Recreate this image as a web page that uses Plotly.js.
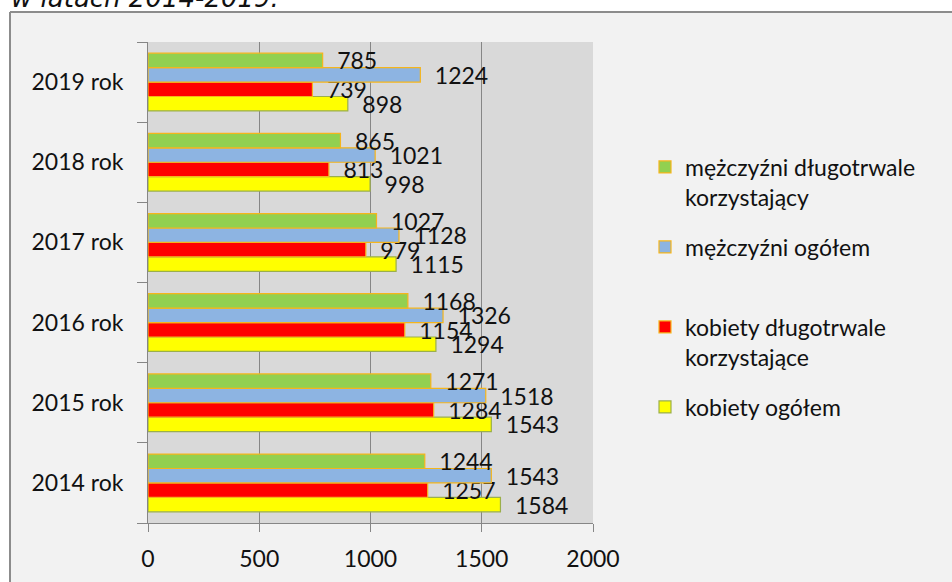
<!DOCTYPE html>
<html>
<head>
<meta charset="utf-8">
<script src="https://cdn.plot.ly/plotly-3.0.1.min.js"></script>
<style>html,body{margin:0;padding:0;background:#fff;}#chart{width:952px;height:582px;}</style>
</head>
<body>
<div id="chart"></div>
<script>
const years = ['2014 rok', '2015 rok', '2016 rok', '2017 rok', '2018 rok', '2019 rok'];
const kobietyOgolem = [1584, 1543, 1294, 1115, 998, 898];
const kobietyDlugo = [1257, 1284, 1154, 979, 813, 739];
const mezczyzniOgolem = [1543, 1518, 1326, 1128, 1021, 1224];
const mezczyzniDlugo = [1244, 1271, 1168, 1027, 865, 785];
const xTicks = [0, 500, 1000, 1500, 2000];

const FONT = 'Lato, "Open Sans", sans-serif';
const TXT = '#111111';
const ORANGE = '#F5B51C';

function barTrace(name, values, color, lineColor, legendId) {
  return {
    type: 'bar', orientation: 'h', name: name, x: values, y: years,
    marker: {color: color, line: {color: lineColor, width: 1.2}},
    texttemplate: '\u2002%{x}', textposition: 'outside', constraintext: 'none',
    cliponaxis: false, textfont: {family: FONT, size: 23, color: TXT},
    legend: legendId, hoverinfo: 'skip'
  };
}

const data = [
  barTrace('kobiety ogółem', kobietyOgolem, '#FFFF00', '#9BAF4B', 'legend4'),
  barTrace('kobiety długotrwale<br>korzystające', kobietyDlugo, '#FF0000', ORANGE, 'legend3'),
  barTrace('mężczyźni ogółem', mezczyzniOgolem, '#8DB4E2', ORANGE, 'legend2'),
  barTrace('mężczyźni długotrwale<br>korzystający', mezczyzniDlugo, '#92D050', ORANGE, 'legend')
];

// plot area in pixels: x 148..593, y 42..523
const L = 148, R = 593, T = 42, B = 523;
const px = v => (v - L) / (R - L);
const py = v => (B - v) / (B - T);

function legendAt(yPix) {
  return {x: px(645), xanchor: 'left', y: py(yPix), yanchor: 'middle', bgcolor: 'rgba(0,0,0,0)',
          borderwidth: 0, valign: 'top', font: {family: FONT, size: 23, color: TXT}};
}

const layout = {
  width: 952, height: 582,
  margin: {l: L, r: 952 - R, t: T, b: 582 - B},
  paper_bgcolor: '#F2F2F2', plot_bgcolor: '#D9D9D9',
  barmode: 'group', bargap: 0.28, bargroupgap: 0,
  showlegend: true,
  legend: legendAt(182), legend2: legendAt(247), legend3: legendAt(342), legend4: legendAt(407),
  xaxis: {
    range: [0, 2000], tickvals: xTicks, ticktext: xTicks.map(String),
    showgrid: true, gridcolor: '#868686', gridwidth: 1,
    showline: true, linecolor: '#868686', linewidth: 1,
    ticks: 'outside', ticklen: 8, tickcolor: '#868686', tickwidth: 1,
    zeroline: false, ticklabelstandoff: 7,
    tickfont: {family: FONT, size: 23, color: TXT}, fixedrange: true
  },
  yaxis: {
    type: 'category', categoryorder: 'array', categoryarray: years,
    showgrid: false, showline: true, linecolor: '#868686', linewidth: 1,
    ticks: 'outside', ticklen: 10, tickcolor: '#868686', tickwidth: 1,
    tickson: 'boundaries', ticklabelstandoff: 19,
    tickfont: {family: FONT, size: 23, color: TXT}, fixedrange: true
  },
  shapes: [
    {type: 'rect', xref: 'paper', yref: 'paper', layer: 'above', x0: px(-5), x1: px(10), y0: py(600), y1: py(-5),
     fillcolor: '#FFFFFF', line: {width: 0}},
    {type: 'rect', xref: 'paper', yref: 'paper', layer: 'above', x0: px(-5), x1: px(960), y0: py(12), y1: py(-5),
     fillcolor: '#FFFFFF', line: {width: 0}},
    {type: 'line', xref: 'paper', yref: 'paper', layer: 'above', x0: px(10), x1: px(10), y0: py(12), y1: py(600),
     line: {color: '#8C8C8C', width: 2}},
    {type: 'line', xref: 'paper', yref: 'paper', layer: 'above', x0: px(10), x1: px(960), y0: py(12), y1: py(12),
     line: {color: '#8C8C8C', width: 2}}
  ],
  annotations: [
    {text: '<i>w latach 2014-2019.</i>', xref: 'paper', yref: 'paper', x: px(9), xanchor: 'left',
     y: py(15), yanchor: 'bottom', showarrow: false,
     font: {family: '"DejaVu Sans", sans-serif', size: 26, color: TXT}}
  ]
};

Plotly.newPlot('chart', data, layout, {staticPlot: true, displayModeBar: false});
</script>
</body>
</html>
